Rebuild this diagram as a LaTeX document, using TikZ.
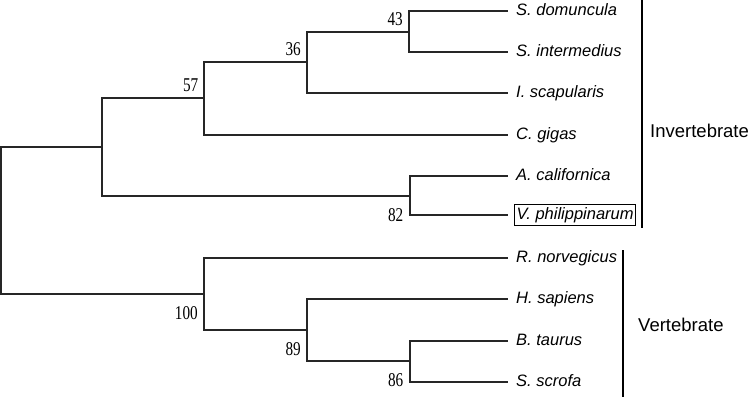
\documentclass[tikz,border=0pt]{standalone}
\usepackage{fontspec}
\setmainfont{Liberation Sans}
\newfontfamily\bsfont[FakeStretch=0.78]{Liberation Serif}
\usetikzlibrary{positioning}
\tikzset{
    treeEdge/.style={line width=2pt, black!85},
    leafEdge/.style={treeEdge, shorten >=6pt},
    leafName/.style={anchor=west, inner xsep=2pt, inner ysep=3pt, text height=11.5pt, text depth=3.5pt, font=\fontsize{16.5}{18}\selectfont\itshape},
    leafBox/.style={leafName, draw, line width=1.2pt},
    bsValue/.style={inner sep=0pt, font=\bsfont\fontsize{19.5}{20}\selectfont},
    groupName/.style={anchor=west, inner sep=2pt, font=\fontsize{18.5}{20}\selectfont},
    groupBar/.style={line width=2pt},
}
\newcommand{\drawBranch}[2]{
    \draw[treeEdge] (#1) |- (#2);
}
\newcommand{\drawLeaf}[2]{
    \draw[leafEdge] (#1) |- (#2);
}

\begin{document}
\begin{tikzpicture}[x=1pt, y=-1pt]
        \useasboundingbox (0,0) rectangle (755,397);

        % inner nodes of the tree
        \coordinate (root) at (1,220);
        \coordinate (inv) at (102,147);
        \coordinate (n57) at (204,98);
        \coordinate (n36) at (307,62);
        \coordinate (n43) at (409,32);
        \coordinate (n82) at (410,196);
        \coordinate (n100) at (204,294);
        \coordinate (n89) at (307,330);
        \coordinate (n86) at (410,361);

        % taxa
        \node[leafName] (sdom) at (514,11) {S. domuncula};
        \node[leafName] (sint) at (514,52) {S. intermedius};
        \node[leafName] (isca) at (514,93) {I. scapularis};
        \node[leafName] (cgig) at (514,135) {C. gigas};
        \node[leafName] (acal) at (514,176) {A. californica};
        \node[leafBox] (vphi) at (514,215) {V. philippinarum};
        \node[leafName] (rnor) at (514,258) {R. norvegicus};
        \node[leafName] (hsap) at (514,299) {H. sapiens};
        \node[leafName] (btau) at (514,341) {B. taurus};
        \node[leafName] (sscr) at (514,382) {S. scrofa};

        \drawBranch{root}{inv}
        \drawBranch{root}{n100}
        \drawBranch{inv}{n57}
        \drawBranch{inv}{n82}
        \drawBranch{n57}{n36}
        \drawBranch{n36}{n43}
        \drawBranch{n100}{n89}
        \drawBranch{n89}{n86}

        \drawLeaf{n43}{sdom}
        \drawLeaf{n43}{sint}
        \drawLeaf{n36}{isca}
        \drawLeaf{n57}{cgig}
        \drawLeaf{n82}{acal}
        \drawLeaf{n82}{vphi}
        \drawLeaf{n100}{rnor}
        \drawLeaf{n89}{hsap}
        \drawLeaf{n86}{btau}
        \drawLeaf{n86}{sscr}

        % bootstrap values
        \node[bsValue, above left=5.7pt and 6pt of n43] (bs43) {43};
        \node[bsValue, above left=5.7pt and 6pt of n36] (bs36) {36};
        \node[bsValue, above left=5.7pt and 5.5pt of n57] (bs57) {57};
        \node[bsValue, below left=12pt and 6.5pt of n82] (bs82) {82};
        \node[bsValue, below left=12pt and 6pt of n100] (bs100) {100};
        \node[bsValue, below left=12pt and 6pt of n89] (bs89) {89};
        \node[bsValue, below left=12.5pt and 6.5pt of n86] (bs86) {86};

        % groups
        \coordinate (invTop) at (642,0);
        \coordinate (invBot) at (642,228);
        \coordinate (vertTop) at (623,250);
        \coordinate (vertBot) at (623,397);
        \draw[groupBar] (invTop) -- (invBot);
        \draw[groupBar] (vertTop) -- (vertBot);
        \node[groupName] (invName) at (648,131) {Invertebrate};
        \node[groupName] (vertName) at (636,325) {Vertebrate};

    \end{tikzpicture}
\end{document}
